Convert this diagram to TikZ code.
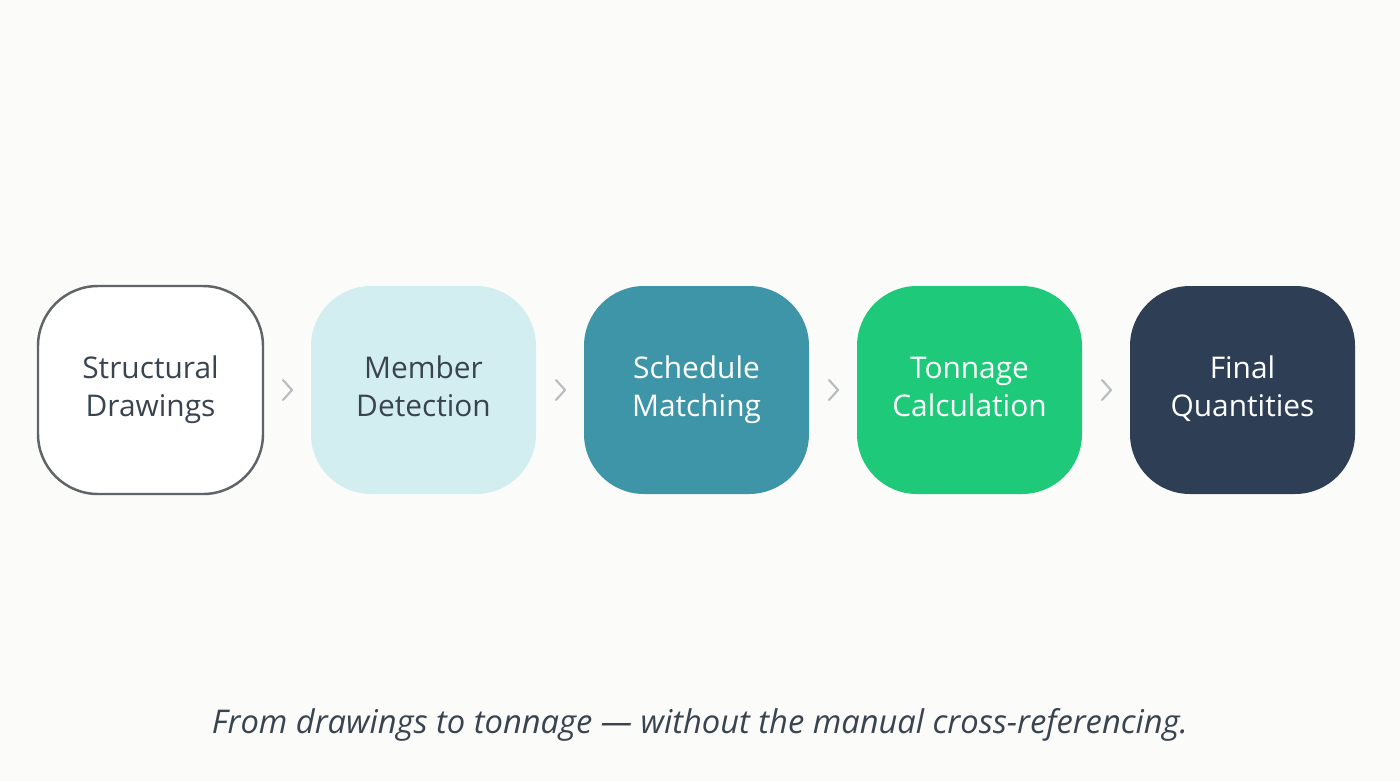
\documentclass[tikz,border=0pt]{standalone}
\usepackage{fontspec}
\setmainfont{Open Sans}
\usetikzlibrary{positioning,calc}
\definecolor{bgc}{HTML}{FBFCFA}
\definecolor{inkc}{HTML}{3A4450}
\definecolor{edgec}{HTML}{5F6468}
\definecolor{mintc}{HTML}{D3EEF0}
\definecolor{tealc}{HTML}{3E95A8}
\definecolor{greenc}{HTML}{1EC97A}
\definecolor{navyc}{HTML}{2D3E55}
\definecolor{chevc}{HTML}{B8BCBE}
\tikzset{
  stage/.style={minimum width=2.25cm, minimum height=2.08cm, rounded corners=0.6cm,
    align=center, font=\fontsize{8.5}{10.6}\selectfont, text=white, outer sep=0pt},
  chev/.style={draw=chevc, line width=0.6pt, line cap=round, line join=round}
}
\begin{document}
\begin{tikzpicture}
  \fill[bgc] (0,0) rectangle (14,7.81);
  \useasboundingbox (0,0) rectangle (14,7.81);
  \node[stage, draw=edgec, line width=0.7pt, fill=white, text=inkc] (draw) at (1.505,3.91) {\strut Structural\\\strut Drawings};
  \node[stage, fill=mintc, text=inkc, right=0.48cm of draw] (detect) {\strut Member\\\strut Detection};
  \node[stage, fill=tealc, right=0.48cm of detect] (match) {\strut Schedule\\\strut Matching};
  \node[stage, fill=greenc, right=0.48cm of match] (tons) {\strut Tonnage\\\strut Calculation};
  \node[stage, fill=navyc, right=0.48cm of tons] (final) {\strut Final\\\strut Quantities};
  % chevrons between stages
  \foreach \a/\b in {draw/detect, detect/match, match/tons, tons/final} {
    \coordinate (m) at ($(\a.east)!0.5!(\b.west)$);
    \draw[chev] ([shift={(-0.04,0.1)}]m) -- ([shift={(0.05,0)}]m) -- ([shift={(-0.04,-0.1)}]m);
  }
  \node[font=\fontsize{9.3}{11}\selectfont\itshape, text=inkc] (note) at (7,0.56)
    {From drawings to tonnage — without the manual cross-referencing.};
\end{tikzpicture}
\end{document}
